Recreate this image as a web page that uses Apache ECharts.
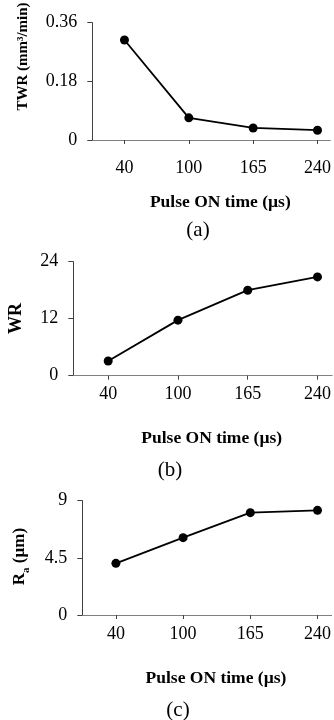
<!DOCTYPE html>
<html>
<head>
<meta charset="utf-8">
<script src="https://cdn.jsdelivr.net/npm/echarts@6/dist/echarts.min.js"></script>
<style>
  html, body { margin: 0; padding: 0; background: #fff; }
  #main { width: 334px; height: 720px; }
</style>
</head>
<body>
<div id="main"></div>
<script>
// 横轴类别（脉冲开启时间）
const categories = ['40', '100', '165', '240']
// 三组测量值
const twrValues = [0.307, 0.068, 0.037, 0.030]
const wrValues = [3.1, 11.7, 18.0, 20.8]
const raValues = [4.07, 6.09, 8.06, 8.24]
// 纵轴刻度
const twrTicks = [0, 0.18, 0.36]
const wrTicks = [0, 12, 24]
const raTicks = [0, 4.5, 9]

const FONT = '"Liberation Serif", "Times New Roman", serif'
const catIndex = categories.map((c, i) => i)

// 子图布局（横轴延伸到画面右边缘，最后一个标签被裁掉一半）
const panels = [
  { left: 92.3, top: 22.7, height: 117.3, xMax: 3.2, labelMargin: 19, nameGap: 53, ticks: twrTicks, data: twrValues },
  { left: 73.3, top: 261.7, height: 114, xMax: 3.21, labelMargin: 10, nameGap: 54, ticks: wrTicks, data: wrValues },
  { left: 82.3, top: 500.7, height: 114.3, xMax: 3.21, labelMargin: 10, nameGap: 54, ticks: raTicks, data: raValues }
]

const chart = echarts.init(document.getElementById('main'), null, { renderer: 'canvas' })

const option = {
  backgroundColor: '#fff',
  animation: false,
  textStyle: { fontFamily: FONT },
  grid: panels.map(p => ({
    left: p.left,
    top: p.top,
    right: 0,
    height: p.height,
    containLabel: false
  })),
  xAxis: panels.map((p, i) => ({
    type: 'value',
    gridIndex: i,
    min: -0.5,
    max: p.xMax,
    name: 'Pulse ON time (µs)',
    nameLocation: 'middle',
    nameGap: p.nameGap,
    nameTextStyle: { fontFamily: FONT, fontSize: 17.5, fontWeight: 'bold', color: '#000', padding: [0, 0, 0, 18] },
    axisLine: { show: true, onZero: false, lineStyle: { color: '#808080', width: 1 } },
    axisTick: { show: true, customValues: catIndex, length: 4, lineStyle: { color: '#404040' } },
    axisLabel: {
      customValues: catIndex,
      margin: p.labelMargin,
      fontFamily: FONT,
      fontSize: 18,
      color: '#000',
      formatter: v => categories[v]
    },
    splitLine: { show: false }
  })),
  yAxis: panels.map((p, i) => ({
    type: 'value',
    gridIndex: i,
    min: p.ticks[0],
    max: p.ticks[2],
    interval: p.ticks[1],
    axisLine: { show: true, onZero: false, lineStyle: { color: '#404040', width: 1 } },
    axisTick: { show: true, length: 5, lineStyle: { color: '#404040' } },
    axisLabel: { margin: 15, fontFamily: FONT, fontSize: 18, color: '#000' },
    splitLine: { show: false }
  })),
  series: panels.map((p, i) => ({
    type: 'line',
    xAxisIndex: i,
    yAxisIndex: i,
    data: p.data.map((v, k) => [k, v]),
    symbol: 'circle',
    symbolSize: 9,
    lineStyle: { color: '#000', width: 1.8 },
    itemStyle: { color: '#000' }
  })),
  graphic: [
    // 纵轴标题
    {
      type: 'text', x: 23, y: 56.5, rotation: Math.PI / 2,
      style: { text: 'TWR (mm³/min)', font: 'bold 15px ' + FONT, fill: '#000', align: 'center', verticalAlign: 'middle' }
    },
    {
      type: 'text', x: 16, y: 318.5, rotation: Math.PI / 2,
      style: { text: 'WR', font: 'bold 18px ' + FONT, fill: '#000', align: 'center', verticalAlign: 'middle' }
    },
    {
      type: 'text', x: 21.5, y: 556.5, rotation: Math.PI / 2,
      style: {
        text: '{r|R}{s|a}{r| (µm)}',
        align: 'center', verticalAlign: 'middle',
        rich: {
          r: { font: 'bold 17px ' + FONT, fill: '#000', verticalAlign: 'bottom', padding: [0, 0, 3, 0] },
          s: { font: 'bold 11px ' + FONT, fill: '#000', verticalAlign: 'bottom' }
        }
      }
    },
    // 子图编号
    {
      type: 'text', x: 198, y: 230,
      style: { text: '(a)', font: '21px ' + FONT, fill: '#000', align: 'center', verticalAlign: 'middle' }
    },
    {
      type: 'text', x: 170, y: 470,
      style: { text: '(b)', font: '21px ' + FONT, fill: '#000', align: 'center', verticalAlign: 'middle' }
    },
    {
      type: 'text', x: 178, y: 710,
      style: { text: '(c)', font: '21px ' + FONT, fill: '#000', align: 'center', verticalAlign: 'middle' }
    }
  ]
}

chart.setOption(option)
</script>
</body>
</html>
